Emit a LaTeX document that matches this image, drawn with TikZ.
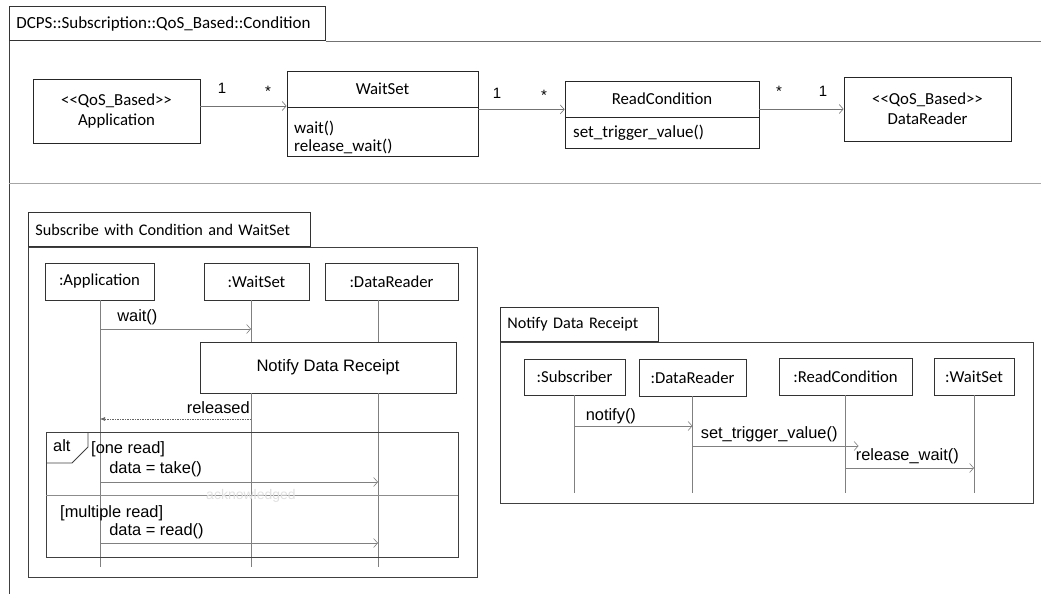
\documentclass[tikz,border=0pt]{standalone}
\usepackage{fontspec}
\setmainfont{Carlito}
\newfontfamily\arialfont{Liberation Sans}
\usepackage{tikz}
\usetikzlibrary{arrows.meta}
\usetikzlibrary{calc}

\begin{document}
\begin{tikzpicture}[x=1pt, y=-1pt,
  box/.style={draw=black!85, line width=0.8pt, inner sep=0pt, align=center, font=\fontsize{16.8}{20}\selectfont},
  ops/.style={inner sep=0pt, align=left, font=\fontsize{17}{18}\selectfont},
  mult/.style={inner sep=0pt, font=\arialfont\fontsize{15}{18}\selectfont},
  tab/.style={draw=black!80, line width=0.8pt, anchor=south west, inner xsep=7pt, inner ysep=0pt, minimum height=34pt, align=left, font=\fontsize{16.2}{18}\selectfont},
  frame/.style={draw=black!75, line width=0.8pt},
  head/.style={draw=black!80, line width=0.8pt, inner sep=0pt, font=\fontsize{16.7}{18}\selectfont},
  refbox/.style={draw=black!80, line width=0.8pt, inner sep=0pt, font=\arialfont\fontsize{16.6}{18}\selectfont},
  lifeline/.style={draw=black!50, line width=0.6pt},
  assoc/.style={draw=black!55, line width=0.6pt, -{Straight Barb[length=4pt, width=9pt]}},
  msg/.style={draw=black!50, line width=0.6pt, -{Straight Barb[length=4pt, width=9pt]}},
  ret/.style={draw=black!60, line width=0.6pt, dash pattern=on 1.5pt off 1pt, -{Latex[length=5pt, width=4pt]}},
  lbl/.style={inner sep=0pt, anchor=base west, yshift=8pt, font=\arialfont\fontsize{16.4}{18}\selectfont},
  guard/.style={inner sep=0pt, anchor=west, font=\arialfont\fontsize{16.4}{18}\selectfont}]
  \useasboundingbox (0,0) rectangle (1041,594);

  % package frame and class diagram
  \node[tab, text width=302pt, font=\fontsize{17}{18}\selectfont] (pkgtab) at (9,41) {DCPS::Subscription::QoS\_Based::Condition};
  \draw[frame] (pkgtab.south west) -- (9,594);
  \draw[draw=black!55, line width=0.8pt] (pkgtab.south east) -- (1041,41);
  \draw[draw=black!35, line width=0.8pt] (9,183) -- (1041,183);

  \node[box, minimum width=167pt, minimum height=64pt] (app) at (116.5,111) {<{}<QoS\_Based>{}>\\Application};
  \node[box, minimum width=191pt, minimum height=36pt] (wsh) at (382.5,89) {WaitSet};
  \node[box, minimum width=191pt, minimum height=49pt, anchor=north] (wsb) at (wsh.south) {};
  \node[ops, anchor=west] (wsops) at (294,137) {wait()\\release\_wait()};
  \node[box, minimum width=194pt, minimum height=36pt] (rch) at (662,99) {ReadCondition};
  \node[box, minimum width=194pt, minimum height=31pt, anchor=north] (rcb) at (rch.south) {};
  \node[ops, anchor=west] (rcops) at (573,133) {set\_trigger\_value()};
  \node[box, minimum width=167pt, minimum height=64pt] (dr) at (927.5,109) {<{}<QoS\_Based>{}>\\DataReader};

  \draw[assoc] ([yshift=5pt]app.east) -- ([yshift=5pt]app.east -| wsh.west);
  \draw[assoc] ([yshift=-2pt]wsh.south east) -- ([yshift=-2pt]wsh.south east -| rch.west);
  \draw[assoc] (dr.west -| rch.east) -- (dr.west);
  \node[mult] (m1) at (222,88) {1};
  \node[mult] (m2) at (268,91) {*};
  \node[mult] (m3) at (497,93) {1};
  \node[mult] (m4) at (544,95) {*};
  \node[mult] (m5) at (779,91) {*};
  \node[mult] (m6) at (823,91) {1};

  % Subscribe with Condition and WaitSet
  \node[tab, text width=268pt] (sqtab) at (28,247) {Subscribe with Condition and WaitSet};
  \draw[frame] (sqtab.south west) rectangle (477,577);
  \node[head, minimum width=109pt, minimum height=37pt] (sapp) at (99.5,281.5) {:Application};
  \node[head, minimum width=105pt, minimum height=37pt] (sws) at (256.5,281.5) {:WaitSet};
  \node[head, minimum width=133pt, minimum height=37pt] (sdr) at (391.5,281.5) {:DataReader};
  \coordinate (lapp) at (100,300);
  \coordinate (lws) at (251,300);
  \coordinate (ldr) at (378,300);
  \node[refbox, minimum width=256pt, minimum height=51pt] (nref) at (328,367.5) {Notify Data Receipt};
  \draw[lifeline] (lapp) -- (lapp |- 0,567);
  \foreach \l in {lws, ldr} {
    \draw[lifeline] (\l) -- (\l |- nref.north);
    \draw[lifeline] (\l |- nref.south) -- (\l |- 0,567);
  }
  \draw[msg] (lapp |- 0,329) -- (lws |- 0,329) node[lbl, pos=0, xshift=17pt] {wait()};
  \draw[ret] (lws |- 0,419) -- (lapp |- 0,419) node[lbl, pos=0, anchor=base east, xshift=-1pt, yshift=-2pt] {released};

  % alt fragment
  \draw[frame] (46,432) rectangle (458,557);
  \draw[frame] (88,432) -- (88,447) -- (72,463) -- (46,463);
  \node[guard] (altlbl) at (53,446) {alt};
  \node[guard] (g1) at (91,449) {[one read]};
  \draw[draw=black!45, line width=0.6pt] (46,495) -- (458,495);
  \node[inner sep=0pt, text=black!12, font=\arialfont\fontsize{14}{16}\selectfont] (ack) at (251,496) {acknowledged};
  \node[guard] (g2) at (60,513) {[multiple read]};
  \draw[msg] (lapp |- 0,482) -- (ldr |- 0,482) node[lbl, pos=0, xshift=9pt, yshift=1pt] {data = take()};
  \draw[msg] (lapp |- 0,543) -- (ldr |- 0,543) node[lbl, pos=0, xshift=9pt] {data = read()};

  % Notify Data Receipt
  \node[tab, text width=144pt] (ndtab) at (500,342) {Notify Data Receipt};
  \draw[frame] (ndtab.south west) rectangle (1033,503);
  \node[head, minimum width=101pt, minimum height=36pt] (sub) at (574.5,377) {:Subscriber};
  \node[head, minimum width=107pt, minimum height=37pt] (dr2) at (692.5,377.5) {:DataReader};
  \node[head, minimum width=133pt, minimum height=37pt] (rc2) at (845.5,376.5) {:ReadCondition};
  \node[head, minimum width=80pt, minimum height=37pt] (ws2) at (974,376.5) {:WaitSet};
  \foreach \n in {sub, dr2, rc2, ws2}
    \draw[lifeline] (\n.south) -- (\n.south |- 0,493);
  \draw[msg] (sub.south |- 0,426) -- (dr2.south |- 0,426) node[lbl, pos=0, xshift=11pt, yshift=-2pt] {notify()};
  \draw[msg] (dr2.south |- 0,446) -- ([xshift=13pt]rc2.south |- 0,446) node[lbl, pos=0, xshift=8pt] {set\_trigger\_value()};
  \draw[msg] (rc2.south |- 0,468) -- (ws2.south |- 0,468) node[lbl, pos=0, xshift=10pt] {release\_wait()};
\end{tikzpicture}
\end{document}
